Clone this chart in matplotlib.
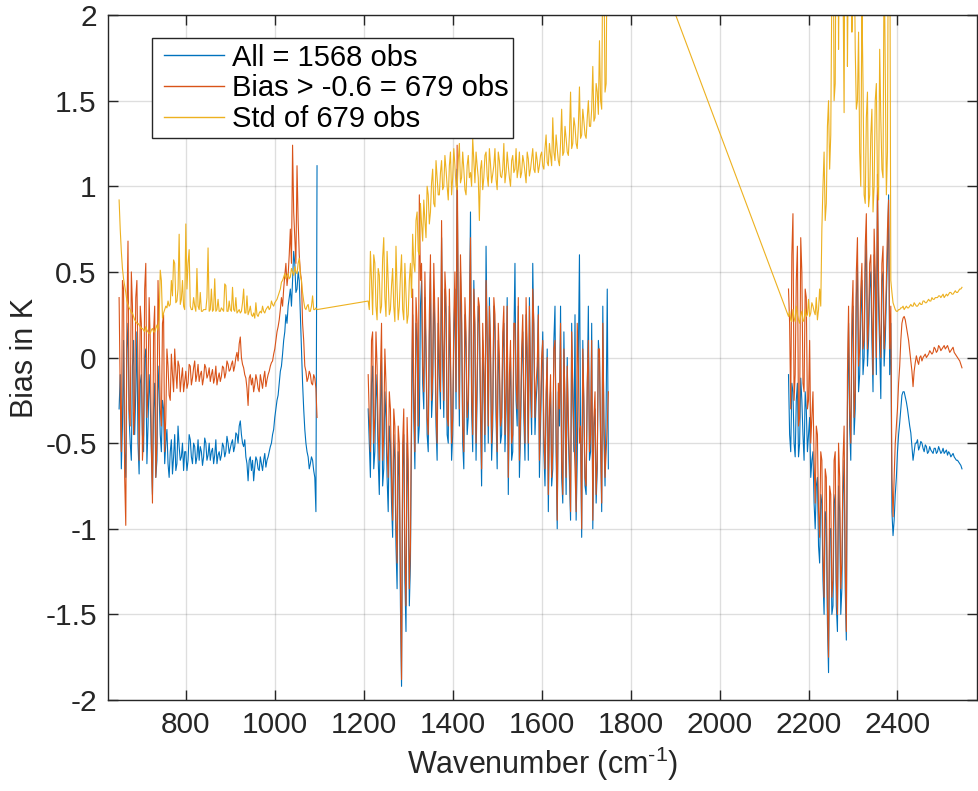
import matplotlib
matplotlib.use("Agg")
import matplotlib.pyplot as plt
from matplotlib.patches import Rectangle
import numpy as np

plt.rcParams['font.family'] = ['Liberation Sans', 'DejaVu Sans']
plt.rcParams['axes.unicode_minus'] = False
plt.rcParams['mathtext.fontset'] = 'custom'
plt.rcParams['mathtext.rm'] = 'Liberation Sans'

# wavenumber grids of the three bands (cm-1); "b" points sit half way between "a" points
wn_lw = np.arange(650, 1096, 5)
wn_mw = np.arange(1210, 1751, 5)
wn_sw = np.arange(2155, 2546, 5)
wn_lw_b = np.arange(652.5, 1093, 5)
wn_mw_b = np.arange(1212.5, 1748, 5)
wn_sw_b = np.arange(2157.5, 2543, 5)

# mean bias, all observations
all_lw = [-0.30, -0.65, 0.10, -0.70, 0.20, -0.50, -0.05, -0.45, 0.15, -0.68,
          -0.10, -0.55, 0.05, -0.40, -0.25, -0.80, -0.15, -0.60, -0.20, -0.55,
          -0.30, -0.50, -0.62, -0.55, -0.68, -0.45, -0.62, -0.52, -0.58, -0.66,
          -0.55, -0.60, -0.48, -0.62, -0.52, -0.58, -0.60, -0.55, -0.58, -0.50,
          -0.57, -0.60, -0.53, -0.57, -0.62, -0.55, -0.57, -0.52, -0.55, -0.50,
          -0.53, -0.48, -0.52, -0.45, -0.40, -0.45, -0.52, -0.58, -0.72, -0.58,
          -0.60, -0.64, -0.60, -0.66, -0.62, -0.60, -0.64, -0.58, -0.52, -0.45,
          -0.35, -0.25, -0.15, -0.05, 0.10, 0.25, 0.30, 0.40, 0.45, 0.55,
          0.40, 0.45, 0.05, -0.30, -0.50, -0.58, -0.62, -0.60, -0.70, 1.12]
all_lw_b = [-0.10, -0.40, -0.55, 0.05, -0.35, -0.60, 0.10, -0.20, -0.50, -0.15,
            -0.45, 0.00, -0.62, -0.10, -0.55, -0.30, -0.70, -0.05, -0.45, -0.25,
            -0.62, -0.42, -0.70, -0.48, -0.58, -0.66, -0.40, -0.60, -0.50, -0.55,
            -0.66, -0.45, -0.58, -0.50, -0.62, -0.48, -0.52, -0.63, -0.47, -0.60,
            -0.50, -0.55, -0.62, -0.48, -0.57, -0.60, -0.50, -0.58, -0.46, -0.56,
            -0.50, -0.55, -0.44, -0.50, -0.37, -0.50, -0.48, -0.62, -0.60, -0.66,
            -0.72, -0.58, -0.65, -0.58, -0.66, -0.56, -0.60, -0.55, -0.50, -0.42,
            -0.30, -0.22, -0.08, 0.02, 0.15, 0.20, 0.35, 0.30, 0.62, 0.38,
            0.50, 0.25, -0.15, -0.42, -0.55, -0.65, -0.58, -0.66, -0.90]
all_mw = [-0.30, -0.70, -0.05, -0.55, -0.25, -0.80, 0.00, -0.65, -0.35, -0.90,
          -0.50, -1.05, -0.60, -1.35, -0.70, -1.92, -0.45, -1.60, -0.75, -1.20,
          0.25, -0.65, 0.10, -0.40, 0.45, -0.30, 0.00, -0.55, 0.50, -0.20,
          0.15, -0.60, -0.10, 0.70, -0.35, 0.25, -0.50, -0.05, -0.45, 0.40,
          1.10, -0.40, 0.20, -0.65, 0.05, -0.35, 0.85, -0.55, 0.10, -0.20,
          0.20, -0.75, -0.15, 0.65, -0.50, 0.00, -0.40, 0.15, -0.65, -0.10,
          -0.45, 0.20, -0.30, -0.80, 0.00, -0.55, 0.55, -0.40, -0.70, -0.05,
          -0.35, 0.25, -0.60, -0.20, 0.55, -0.45, -0.15, -0.70, -0.10, -0.55,
          -0.30, -0.90, -0.20, -0.65, 0.30, -1.00, -0.40, -0.70, 0.15, -0.80,
          -0.45, -0.95, -0.25, 0.25, -0.60, 0.60, -1.05, -0.35, -0.80, 0.30,
          -0.55, -1.00, -0.30, -0.65, 0.00, -0.90, -0.45, -0.30, -0.65]
all_mw_b = [-0.50, -0.15, -0.65, -0.10, -0.60, -0.30, -0.75, -0.20, -0.70, -0.40,
            -0.85, -0.45, -1.10, -0.55, -1.45, -0.65, -1.30, -0.50, -1.45, -0.40,
            -0.35, 0.20, -0.50, 0.30, -0.15, 0.35, -0.45, 0.10, -0.35, 0.40,
            -0.40, 0.20, -0.30, -0.05, 0.40, -0.45, 0.30, -0.60, 0.10, -0.30,
            0.20, 0.50, -0.50, 0.25, -0.45, 0.15, -0.30, 0.45, -0.60, 0.30,
            -0.35, 0.10, -0.55, 0.05, 0.35, -0.60, 0.30, -0.35, 0.10, -0.50,
            0.05, -0.55, 0.35, -0.20, -0.60, 0.10, -0.25, 0.30, -0.45, 0.15,
            -0.60, -0.05, 0.35, -0.45, 0.10, -0.25, 0.30, -0.40, 0.15, -0.75,
            0.05, -0.35, -0.75, 0.10, -0.55, -0.20, 0.30, -0.85, -0.35, 0.00,
            -0.70, 0.20, -0.55, -0.95, 0.00, -0.45, 0.10, -0.75, -0.20, -0.60,
            0.20, -0.40, -0.85, 0.10, -0.50, 0.30, -0.75, 0.40]
all_sw = [-0.10, -0.55, -0.20, -0.58, -0.15, -0.50, -0.25, -0.60, -0.30, -0.45,
          -0.70, -0.55, -1.00, -0.70, -1.20, -0.85, -1.50, -0.95, -1.84, -1.00,
          -1.45, -0.80, -1.60, -0.90, -1.35, -0.60, -1.65, 0.20, -0.60, 0.30,
          -0.30, 0.55, -0.10, 0.45, 0.00, 0.72, 0.10, 0.50, -0.20, 0.40,
          0.95, 0.05, 0.45, -0.05, 0.35, 0.95, 0.20, -1.04, -0.80, -0.55,
          -0.38, -0.22, -0.20, -0.26, -0.35, -0.44, -0.60, -0.50, -0.48, -0.52,
          -0.50, -0.55, -0.52, -0.55, -0.54, -0.56, -0.53, -0.55, -0.54, -0.55,
          -0.56, -0.54, -0.55, -0.58, -0.56, -0.59, -0.60, -0.62, -0.65]
all_sw_b = [-0.45, -0.15, -0.50, -0.25, -0.58, -0.12, -0.45, -0.20, -0.55, -0.35,
            -0.60, -0.85, -0.75, -1.10, -0.80, -1.30, -0.90, -1.55, -1.00, -1.50,
            -0.85, -1.45, -0.75, -1.50, -0.80, -1.35, -0.30, -0.40, 0.10, -0.45,
            0.35, -0.20, 0.25, -0.10, 0.50, -0.05, 0.40, 0.10, 0.60, -0.10,
            0.30, -0.24, 0.50, 0.10, 0.60, -0.10, -0.90, -0.95, -0.70, -0.45,
            -0.30, -0.20, -0.23, -0.30, -0.40, -0.52, -0.55, -0.50, -0.54, -0.49,
            -0.53, -0.51, -0.56, -0.52, -0.55, -0.53, -0.56, -0.52, -0.56, -0.53,
            -0.55, -0.57, -0.56, -0.57, -0.58, -0.60, -0.61, -0.63]

# mean bias, observations with bias > -0.6
sel_lw = [0.35, -0.55, 0.40, -0.98, 0.68, -0.40, 0.30, -0.30, 0.45, -0.60,
          0.20, -0.45, 0.55, -0.20, 0.10, -0.85, 0.30, -0.50, 0.15, -0.40,
          0.25, -0.35, -0.05, -0.25, -0.10, 0.05, -0.18, -0.05, -0.12, -0.20,
          -0.08, -0.15, -0.05, -0.12, -0.02, -0.10, -0.14, -0.08, -0.12, -0.06,
          -0.10, -0.14, -0.07, -0.12, -0.16, -0.09, -0.11, -0.06, -0.09, -0.04,
          -0.07, -0.02, -0.05, 0.03, 0.08, 0.00, -0.06, -0.12, -0.28, -0.10,
          -0.12, -0.16, -0.13, -0.20, -0.14, -0.12, -0.17, -0.10, -0.05, -0.02,
          0.05, 0.15, 0.22, 0.35, 0.40, 0.55, 0.48, 0.75, 1.24, 0.70,
          1.12, 0.60, 0.45, 0.10, -0.08, -0.12, -0.10, -0.16, -0.12, -0.35]
sel_lw_b = [-0.20, 0.45, -0.70, 0.25, -0.30, 0.50, -0.45, 0.35, -0.10, 0.30,
            -0.60, 0.40, -0.35, 0.35, -0.50, 0.15, -0.70, 0.45, -0.30, 0.20,
            -0.55, 0.05, -0.22, 0.02, -0.20, -0.08, -0.02, -0.20, -0.06, -0.14,
            -0.18, -0.04, -0.16, -0.06, -0.14, -0.04, -0.10, -0.16, -0.04, -0.12,
            -0.06, -0.10, -0.15, -0.05, -0.12, -0.14, -0.05, -0.12, -0.02, -0.08,
            -0.04, -0.08, 0.00, -0.02, 0.12, -0.04, -0.10, -0.18, -0.12, -0.16,
            -0.20, -0.10, -0.18, -0.10, -0.18, -0.08, -0.13, -0.08, -0.03, 0.02,
            0.10, 0.18, 0.28, 0.30, 0.48, 0.42, 0.60, 0.55, 0.85, 0.55,
            0.80, 0.50, 0.20, -0.05, -0.14, -0.08, -0.15, -0.10, -0.18]
sel_mw = [-0.10, -0.55, 0.15, -0.35, -0.05, -0.60, 0.20, -0.45, -0.15, -0.70,
          -0.30, -0.95, -0.40, -1.20, -0.50, -1.88, -0.30, -1.45, -0.60, -1.10,
          0.40, -0.55, 0.20, 0.95, 0.55, -0.20, 0.10, -0.45, 0.60, -0.10,
          0.25, -0.50, 0.00, 0.80, -0.25, 0.35, -0.40, 0.05, -0.35, 0.50,
          1.24, -0.30, 0.30, -0.55, 0.15, -0.25, 0.70, -0.45, 0.20, -0.10,
          0.30, -0.65, -0.05, 0.45, -0.40, 0.10, -0.30, 0.25, -0.55, 0.00,
          -0.35, 0.30, -0.20, -0.70, 0.10, -0.45, 0.20, -0.30, -0.60, 0.05,
          -0.25, 0.35, -0.50, -0.10, 0.40, -0.35, -0.05, -0.60, 0.00, -0.45,
          -0.20, -0.80, -0.10, -0.55, 0.10, -0.95, -0.30, -0.60, 0.05, -0.70,
          -0.35, -0.90, -0.15, -0.65, 0.20, -0.50, -1.00, -0.25, -0.75, 0.10,
          -0.45, -0.95, -0.20, -0.60, 0.05, -0.85, -0.35, -0.55, -0.20]
sel_mw_b = [-0.35, 0.10, -0.50, 0.15, -0.45, -0.10, -0.60, 0.05, -0.55, -0.20,
            -0.70, -0.30, -0.95, -0.40, -1.30, -0.50, -1.15, -0.35, -1.35, -0.25,
            -0.20, 0.35, -0.40, 0.45, -0.05, 0.50, -0.35, 0.25, -0.25, 0.55,
            -0.30, 0.35, -0.20, 0.10, 0.50, -0.35, 0.40, -0.50, 0.20, -0.20,
            0.30, 0.60, -0.40, 0.35, -0.35, 0.25, -0.20, 0.40, -0.50, 0.35,
            -0.25, 0.20, -0.45, 0.15, 0.30, -0.50, 0.35, -0.25, 0.20, -0.40,
            0.15, -0.45, 0.30, -0.10, -0.50, 0.20, -0.15, 0.35, -0.35, 0.25,
            -0.50, 0.05, 0.30, -0.35, 0.20, -0.15, 0.25, -0.30, 0.10, -0.65,
            0.00, -0.30, -0.70, 0.05, -0.45, -0.15, 0.20, -0.80, -0.25, -0.05,
            -0.60, 0.15, -0.45, -0.90, -0.05, -0.40, 0.05, -0.70, -0.15, -0.55,
            0.10, -0.35, -0.80, 0.05, -0.45, 0.20, -0.70, -0.40]
sel_sw = [0.40, -0.30, 0.84, -0.10, 0.65, -0.35, 0.50, -0.20, 0.35, -0.25,
          -0.50, -0.20, -0.85, -0.45, -1.05, -0.60, -1.40, -0.70, -1.75, -0.80,
          -1.30, -0.55, -1.50, -0.70, -1.20, -0.40, -1.60, 0.30, -0.50, 0.45,
          -0.20, 0.70, 0.05, 0.55, 0.10, 0.84, 0.20, 0.60, -0.10, 0.50,
          1.07, 0.15, 0.55, 0.05, 0.45, 0.92, 0.30, -0.93, -0.50, -0.30,
          -0.05, 0.20, 0.24, 0.18, 0.10, -0.02, -0.17, -0.03, -0.02, 0.00,
          -0.02, 0.01, 0.00, 0.02, 0.03, 0.03, 0.05, 0.04, 0.06, 0.05,
          0.07, 0.06, 0.05, 0.04, 0.06, 0.02, 0.00, -0.02, -0.06]
sel_sw_b = [0.20, 0.60, -0.25, 0.45, -0.40, 0.70, -0.15, 0.40, -0.30, 0.10,
            -0.35, -0.60, -0.40, -0.90, -0.55, -1.15, -0.65, -1.45, -0.75, -1.40,
            -0.60, -1.30, -0.50, -1.35, -0.60, -1.20, -0.10, -0.30, 0.25, -0.35,
            0.50, -0.05, 0.40, 0.05, 0.65, 0.05, 0.55, 0.25, 0.75, 0.00,
            0.45, 0.00, 0.65, 0.20, 0.75, 0.05, -0.70, -0.70, -0.40, -0.15,
            0.10, 0.23, 0.22, 0.14, 0.04, -0.08, -0.08, 0.01, -0.04, 0.01,
            0.00, 0.02, 0.01, 0.04, 0.02, 0.06, 0.03, 0.07, 0.04, 0.06,
            0.05, 0.07, 0.03, 0.05, 0.03, 0.01, -0.01, -0.04]

# standard deviation of the selected observations
std_lw = [0.92, 0.62, 0.46, 0.38, 0.31, 0.28, 0.26, 0.22, 0.20, 0.19,
          0.17, 0.16, 0.18, 0.15, 0.14, 0.17, 0.15, 0.19, 0.22, 0.45,
          0.26, 0.30, 0.33, 0.31, 0.36, 0.55, 0.33, 0.72, 0.34, 0.30,
          0.78, 0.55, 0.30, 0.28, 0.30, 0.52, 0.28, 0.27, 0.28, 0.28,
          0.64, 0.28, 0.27, 0.46, 0.28, 0.27, 0.29, 0.27, 0.42, 0.27,
          0.28, 0.41, 0.27, 0.26, 0.28, 0.27, 0.40, 0.26, 0.25, 0.30,
          0.24, 0.23, 0.25, 0.26, 0.26, 0.27, 0.28, 0.30, 0.29, 0.31,
          0.32, 0.34, 0.38, 0.44, 0.47, 0.46, 0.49, 0.47, 0.50, 0.53,
          0.49, 0.58, 0.45, 0.33, 0.28, 0.31, 0.27, 0.36, 0.28, 0.28]
std_lw_b = [0.75, 0.52, 0.42, 0.33, 0.29, 0.26, 0.24, 0.21, 0.20, 0.18,
            0.17, 0.15, 0.16, 0.14, 0.16, 0.15, 0.17, 0.16, 0.51, 0.23,
            0.28, 0.29, 0.30, 0.45, 0.57, 0.32, 0.40, 0.31, 0.45, 0.28,
            0.40, 0.63, 0.28, 0.35, 0.27, 0.30, 0.38, 0.27, 0.28, 0.35,
            0.27, 0.40, 0.28, 0.27, 0.34, 0.27, 0.28, 0.43, 0.27, 0.33,
            0.27, 0.28, 0.35, 0.27, 0.26, 0.32, 0.26, 0.36, 0.27, 0.25,
            0.26, 0.32, 0.24, 0.27, 0.30, 0.26, 0.29, 0.28, 0.33, 0.30,
            0.33, 0.36, 0.40, 0.45, 0.49, 0.48, 0.46, 0.52, 0.48, 0.50,
            0.55, 0.48, 0.38, 0.29, 0.30, 0.27, 0.30, 0.28, 0.29]
std_mw = [0.33, 0.62, 0.25, 0.55, 0.22, 0.48, 0.30, 0.70, 0.24, 0.45,
          0.28, 0.52, 0.21, 0.40, 0.30, 0.60, 0.22, 0.38, 0.25, 0.55,
          0.72, 0.50, 0.85, 0.60, 0.78, 0.92, 0.70, 0.95, 0.85, 1.10,
          0.88, 1.05, 0.95, 1.15, 1.00, 1.10, 0.92, 1.20, 1.05, 1.12,
          0.98, 1.25, 1.05, 1.10, 0.95, 1.18, 1.08, 1.28, 1.02, 1.12,
          0.80, 1.15, 1.05, 1.20, 1.00, 1.13, 1.07, 1.22, 0.98, 1.15,
          1.05, 1.25, 1.08, 1.12, 1.00, 1.18, 1.10, 1.05, 1.20, 1.08,
          1.14, 1.02, 1.16, 1.10, 1.22, 1.08, 1.15, 1.12, 1.20, 1.10,
          1.30, 1.12, 1.18, 1.40, 1.15, 1.22, 1.12, 1.45, 1.20, 1.28,
          1.18, 1.55, 1.25, 1.35, 1.22, 1.58, 1.30, 1.38, 1.28, 1.50,
          1.35, 1.70, 1.40, 1.55, 1.85, 1.45, 2.30, 1.60, 3.05]
std_mw_b = [0.28, 0.45, 0.60, 0.30, 0.52, 0.26, 0.58, 0.35, 0.62, 0.25,
            0.42, 0.30, 0.65, 0.22, 0.48, 0.28, 0.55, 0.20, 0.45, 0.35,
            0.55, 0.80, 0.62, 0.90, 0.68, 0.80, 1.00, 0.78, 1.02, 0.90,
            1.15, 0.95, 1.08, 0.98, 1.18, 1.00, 1.12, 0.95, 1.22, 1.00,
            1.15, 1.02, 1.20, 0.98, 1.12, 1.05, 1.00, 1.15, 1.20, 1.05,
            1.10, 0.98, 1.18, 1.06, 1.22, 1.02, 1.12, 1.04, 1.20, 1.06,
            1.10, 1.02, 1.20, 1.05, 1.15, 1.08, 1.22, 1.10, 1.05, 1.18,
            1.08, 1.20, 1.06, 1.16, 1.10, 1.20, 1.08, 1.18, 1.12, 1.22,
            1.14, 1.25, 1.12, 1.20, 1.30, 1.15, 1.25, 1.18, 1.35, 1.20,
            1.30, 1.22, 1.40, 1.25, 1.35, 1.28, 1.45, 1.30, 1.40, 1.35,
            1.45, 1.38, 1.60, 1.42, 1.50, 2.40, 1.55, 2.60]
std_sw = [0.24, 0.22, 0.28, 0.21, 0.25, 0.20, 0.27, 0.22, 0.24, 0.34,
          0.26, 0.30, 0.25, 0.22, 0.40, 0.75, 1.20, 0.90, 1.50, 1.30,
          2.80, 1.60, 3.20, 2.60, 3.50, 1.43, 3.00, 2.50, 3.40, 2.20,
          1.80, 1.50, 1.20, 2.10, 0.95, 1.40, 0.88, 1.30, 0.85, 1.50,
          1.00, 1.80, 1.10, 2.40, 0.95, 3.00, 0.45, 0.32, 0.28, 0.27,
          0.28, 0.29, 0.28, 0.30, 0.29, 0.31, 0.30, 0.31, 0.30, 0.32,
          0.31, 0.33, 0.32, 0.34, 0.33, 0.34, 0.35, 0.35, 0.36, 0.36,
          0.35, 0.37, 0.37, 0.38, 0.37, 0.39, 0.38, 0.40, 0.41]
std_sw_b = [0.27, 0.21, 0.23, 0.30, 0.22, 0.25, 0.21, 0.28, 0.25, 0.24,
            0.32, 0.27, 0.35, 0.28, 0.30, 1.00, 0.80, 1.35, 1.10, 2.20,
            1.50, 2.80, 1.80, 3.00, 2.20, 3.20, 1.70, 3.00, 1.90, 2.50,
            1.45, 1.90, 1.00, 1.60, 0.90, 1.55, 0.95, 1.45, 1.00, 1.60,
            0.92, 1.40, 1.05, 1.70, 1.20, 2.80, 0.38, 0.30, 0.27, 0.28,
            0.29, 0.30, 0.29, 0.29, 0.30, 0.30, 0.32, 0.30, 0.31, 0.31,
            0.33, 0.32, 0.33, 0.33, 0.35, 0.34, 0.35, 0.36, 0.35, 0.37,
            0.36, 0.36, 0.38, 0.37, 0.38, 0.38, 0.39, 0.40]


def weave(a, b):
    out = np.empty(len(a) + len(b))
    out[0::2] = a
    out[1::2] = b
    return out


gap = [np.nan]
x_lw, x_mw, x_sw = weave(wn_lw, wn_lw_b), weave(wn_mw, wn_mw_b), weave(wn_sw, wn_sw_b)
x_gap = np.concatenate([x_lw, gap, x_mw, gap, x_sw])
x_all = np.concatenate([x_lw, x_mw, x_sw])
bias_all = np.concatenate([weave(all_lw, all_lw_b), gap, weave(all_mw, all_mw_b), gap,
                           weave(all_sw, all_sw_b)])
bias_sel = np.concatenate([weave(sel_lw, sel_lw_b), gap, weave(sel_mw, sel_mw_b), gap,
                           weave(sel_sw, sel_sw_b)])
std_sel = np.concatenate([weave(std_lw, std_lw_b), weave(std_mw, std_mw_b),
                          weave(std_sw, std_sw_b)])

fig = plt.figure(figsize=(9.79, 7.91), dpi=100)
ax = fig.add_axes([0.1103, 0.115, 0.8873, 0.866])

l1, = ax.plot(x_gap, bias_all, color='#0072BD', lw=0.8, label='All = 1568 obs')
l2, = ax.plot(x_gap, bias_sel, color='#D95319', lw=0.8, label='Bias > -0.6 = 679 obs')
l3, = ax.plot(x_all, std_sel, color='#EDB120', lw=0.8, label='Std of 679 obs')

ax.set_xlim(625, 2578)
ax.set_ylim(-2, 2)
ax.set_xticks(np.arange(800, 2401, 200))
ax.set_yticks([-2, -1.5, -1, -0.5, 0, 0.5, 1, 1.5, 2])
ax.set_yticklabels(['-2', '-1.5', '-1', '-0.5', '0', '0.5', '1', '1.5', '2'])
ax.grid(True, color='#262626', alpha=0.15, lw=1.0)
ax.tick_params(direction='in', length=7, width=1, top=True, right=True,
               labelsize=21.5, colors='#262626', pad=8)
for s in ax.spines.values():
    s.set_color('#262626')
    s.set_linewidth(1.0)

ax.set_xlabel('Wavenumber (cm$^{\u20101}$)', fontsize=22, color='#262626')
ax.set_ylabel('Bias in K', fontsize=22, color='#262626')

# legend: MATLAB style box drawn as a rectangle, entries placed inside
fig.patches.append(Rectangle((0.1556, 0.8252), 0.3681, 0.1264, transform=fig.transFigure,
                             facecolor='white', edgecolor='#262626', lw=1.0, zorder=5))
leg = fig.legend(handles=[l1, l2, l3], loc='upper left', bbox_to_anchor=(0.1675, 0.9450),
                 bbox_transform=fig.transFigure, borderaxespad=0, borderpad=0,
                 fontsize=21, frameon=False, handlelength=2.05, labelspacing=0.1,
                 handletextpad=0.27)
for h in leg.get_lines():
    h.set_linewidth(1.0)
leg.set_zorder(6)

fig.savefig('out.png', dpi=100)
